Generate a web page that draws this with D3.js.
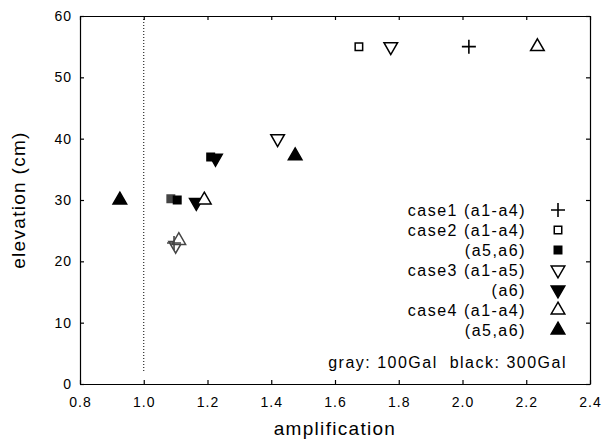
<!DOCTYPE html>
<html>
<head>
<meta charset="utf-8">
<script src="https://cdn.jsdelivr.net/npm/d3@7"></script>
<style>
  body { margin: 0; background: #fff; }
  svg { font-family: "Liberation Sans", Arial, sans-serif; }
  .axis path, .axis line { stroke: #000; stroke-width: 1.2; }
  .axis text { font-size: 14px; fill: #000; letter-spacing: 1px; }
  .legend text { font-size: 16px; letter-spacing: 1.5px; }
  .title { font-size: 19px; letter-spacing: 1.3px; }
</style>
</head>
<body>
<svg id="chart" width="602" height="443"></svg>
<script>
// tick values
var xTicks = [0.8, 1.0, 1.2, 1.4, 1.6, 1.8, 2.0, 2.2, 2.4];
var yTicks = [0, 10, 20, 30, 40, 50, 60];

// series: [amplification, elevation] (black = 300Gal, gray = 100Gal)
var case1Plus      = [[2.02, 55]];
var case1PlusGray  = [[1.095, 23]];
var case2Open      = [[1.675, 55]];
var case2Filled    = [[1.105, 30], [1.21, 37]];
var case2FilledGray = [[1.085, 30.2]];
var case3Open      = [[1.775, 55], [1.42, 40]];
var case3OpenGray  = [[1.1, 22.6]];
var case3Filled    = [[1.225, 36.8], [1.165, 29.6]];
var case4Open      = [[2.235, 55], [1.19, 30]];
var case4OpenGray  = [[1.11, 23.4]];
var case4Filled    = [[0.925, 30], [1.475, 37.2]];

var legendLabels = ["case1 (a1-a4)", "case2 (a1-a4)", "(a5,a6)", "case3 (a1-a5)", "(a6)", "case4 (a1-a4)", "(a5,a6)"];
var legendKinds  = ["plus", "sqOpen", "sqFill", "downOpen", "downFill", "upOpen", "upFill"];

var margin = { top: 16, right: 12, bottom: 59, left: 80 };
var svg = d3.select("#chart");
var width = +svg.attr("width") - margin.left - margin.right;
var height = +svg.attr("height") - margin.top - margin.bottom;
var g = svg.append("g").attr("transform", "translate(" + margin.left + "," + margin.top + ")");

var x = d3.scaleLinear().domain([0.8, 2.4]).range([0, width]);
var y = d3.scaleLinear().domain([0, 60]).range([height, 0]);

// axes, ticks pointing inward
g.append("g").attr("class", "axis")
  .attr("transform", "translate(0," + height + ")")
  .call(d3.axisBottom(x).tickValues(xTicks).tickFormat(d3.format(".1f")).tickSizeInner(-4).tickSizeOuter(0).tickPadding(13));
g.append("g").attr("class", "axis")
  .call(d3.axisLeft(y).tickValues(yTicks).tickSizeInner(-4).tickSizeOuter(0).tickPadding(8));
g.append("g").attr("class", "axis")
  .call(d3.axisTop(x).tickValues(xTicks).tickFormat("").tickSizeInner(-4).tickSizeOuter(0));
g.append("g").attr("class", "axis")
  .attr("transform", "translate(" + width + ",0)")
  .call(d3.axisRight(y).tickValues(yTicks).tickFormat("").tickSizeInner(-4).tickSizeOuter(0));

// reference line at amplification 1.0
g.append("line")
  .attr("x1", x(1.0)).attr("x2", x(1.0))
  .attr("y1", 0).attr("y2", y(1.8))
  .attr("stroke", "#000").attr("stroke-width", 1)
  .attr("stroke-dasharray", "1,2");

// axis titles
svg.append("text").attr("class", "title")
  .attr("x", margin.left + width / 2).attr("y", 435)
  .attr("text-anchor", "middle")
  .text("amplification");
svg.append("text").attr("class", "title")
  .attr("transform", "translate(25," + (margin.top + height / 2) + ") rotate(-90)")
  .attr("text-anchor", "middle")
  .text("elevation (cm)");

var tri = d3.symbol().type(d3.symbolTriangle).size(80);
var sq = d3.symbol().type(d3.symbolSquare).size(56);

function drawMarker(sel, kind, color) {
  if (kind === "plus") {
    sel.append("path").attr("d", "M-7,0H7M0,-7V7")
      .attr("stroke", color).attr("stroke-width", 1.6).attr("fill", "none");
  } else if (kind === "sqOpen" || kind === "sqFill") {
    sel.append("path").attr("d", sq())
      .attr("fill", kind === "sqFill" ? color : "#fff")
      .attr("stroke", color).attr("stroke-width", 1.5);
  } else {
    var p = sel.append("path").attr("d", tri())
      .attr("fill", /Fill/.test(kind) ? color : "#fff")
      .attr("stroke", color).attr("stroke-width", 1.5);
    if (/down/.test(kind)) p.attr("transform", "rotate(180)");
  }
}

function plotSeries(data, kind, color) {
  g.selectAll(null).data(data).enter().append("g")
    .attr("transform", function (d) { return "translate(" + x(d[0]) + "," + y(d[1]) + ")"; })
    .each(function () { drawMarker(d3.select(this), kind, color); });
}

var gray = "#444";
plotSeries(case2FilledGray, "sqFill", gray);
plotSeries(case3OpenGray, "downOpen", gray);
plotSeries(case4OpenGray, "upOpen", gray);
plotSeries(case1PlusGray, "plus", gray);
plotSeries(case1Plus, "plus", "#000");
plotSeries(case2Open, "sqOpen", "#000");
plotSeries(case2Filled, "sqFill", "#000");
plotSeries(case3Open, "downOpen", "#000");
plotSeries(case3Filled, "downFill", "#000");
plotSeries(case4Open, "upOpen", "#000");
plotSeries(case4Filled, "upFill", "#000");

// legend
var legend = g.append("g").attr("class", "legend");
legendLabels.forEach(function (label, i) {
  var ly = 194 + i * 20;
  legend.append("text")
    .attr("x", 446).attr("y", ly).attr("dy", "0.35em")
    .attr("text-anchor", "end")
    .text(label);
  var m = legend.append("g").attr("transform", "translate(478," + ly + ")");
  drawMarker(m, legendKinds[i], "#000");
});
legend.append("text")
  .attr("x", 487).attr("y", 346).attr("dy", "0.35em")
  .attr("text-anchor", "end")
  .style("white-space", "pre")
  .text("gray: 100Gal  black: 300Gal");
</script>
</body>
</html>
